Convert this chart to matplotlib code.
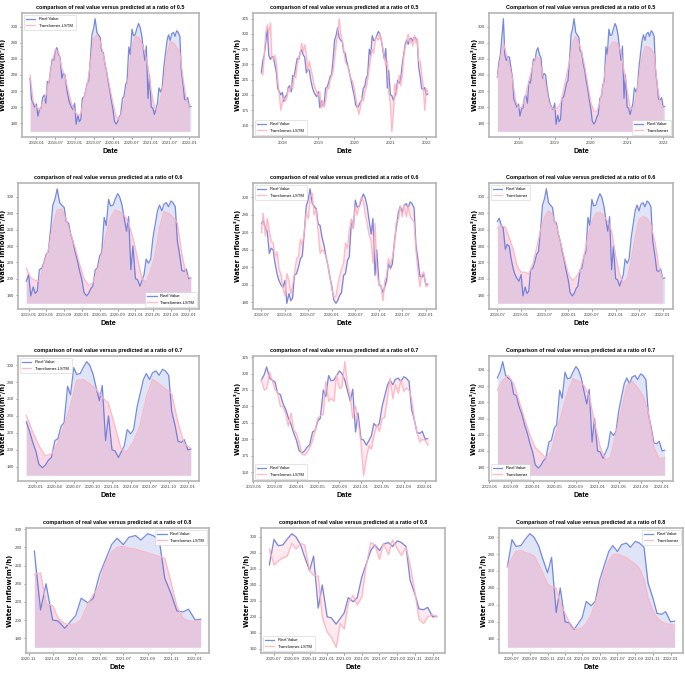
import matplotlib
matplotlib.use('Agg')
import matplotlib.pyplot as plt
import matplotlib.dates as mdates
from matplotlib.ticker import MultipleLocator
import pandas as pd

# semi-monthly observations, 2017-06-01 .. 2022-01-15
dates = pd.date_range('2017-06-01', periods=112, freq='SMS')

real_value = [
    237, 255, 265, 285, 310, 265, 258, 263, 262, 250, 236, 210, 205, 200,          # 2017
    204, 189, 198, 199, 212, 215, 205, 232, 230, 245, 260, 258,                    # 2018
    270, 274, 265, 262, 236, 242, 240, 225, 212, 205, 200, 197,
    205, 179, 190, 182, 185, 211, 213, 220, 230, 233, 262, 290,                    # 2019
    298, 310, 293, 290, 287, 270, 268, 255, 245, 233, 222, 210,
    198, 183, 179, 182, 188, 191, 211, 213, 228, 232, 275, 265,                    # 2020
    297, 289, 290, 297, 304, 300, 290, 275, 258, 276, 211, 240,
    200, 199, 191, 198, 205, 224, 219, 224, 250, 265, 283, 290,                    # 2021
    283, 291, 293, 288, 295, 293, 288, 246, 228, 210, 209, 212,
    200, 201,                                                                      # 2022
]

# Transformer-LSTM (left column), monthly except ratio 0.8
lstm_05 = [240, 207, 200, 197, 205, 215, 232, 255, 272, 268, 248, 238, 220, 205,
           195, 190, 192, 212, 228, 255, 285, 290, 282, 265, 245, 225,
           205, 188, 185, 195, 215, 240, 275, 288, 287, 280, 268, 250,
           220, 200, 196, 210, 232, 265, 282, 280, 274, 268, 235, 210, 200]
lstm_06 = [213, 201, 198, 197, 218, 235, 265, 284, 285, 272, 255, 238, 218,
           200, 192, 195, 210, 228, 255, 275, 284, 282, 278, 268, 250,
           225, 200, 196, 210, 228, 262, 282, 280, 275, 268, 230, 205, 200]
lstm_07 = [241, 222, 205, 193, 195, 208, 228, 252, 282, 283, 278, 272, 262, 255,
           228, 200, 198, 210, 228, 262, 283, 278, 272, 266, 232, 207, 202]
lstm_08 = [250, 252, 218, 216, 202, 196, 195, 196, 200, 218, 228, 238, 262, 275,
           280, 281, 279, 278, 276, 274, 272, 270, 268, 240, 215, 202, 199, 199, 199]

# Transformer-LSTM (middle column), semi-monthly
tl_05 = [235, 233, 265, 300, 315, 300, 318, 262, 258, 265, 252, 222, 200, 175,
         190, 195, 190, 195, 210, 205, 215, 210, 232, 228, 250, 262,
         268, 285, 272, 282, 265, 240, 255, 243, 232, 218, 210, 205,
         198, 205, 178, 190, 180, 190, 212, 210, 225, 230, 240, 262,
         283, 300, 325, 300, 290, 275, 255, 250, 245, 235, 225, 222,
         210, 195, 180, 168, 178, 195, 190, 205, 212, 225, 245, 262,
         275, 268, 290, 295, 290, 300, 290, 278, 262, 248, 255, 205,
         185, 140, 170, 218, 200, 215, 232, 215, 232, 260, 280, 285,
         300, 285, 290, 280, 298, 285, 292, 255, 255, 232, 215, 175,
         210, 205]
tl_06 = [260, 282, 256, 276, 262, 250, 248, 232, 238, 218, 212,
         196, 188, 213, 205, 190, 200, 212, 230, 232, 252, 245, 262,
         282, 276, 300, 305, 280, 286, 262, 236, 240, 238, 232, 222, 210,
         195, 186, 187, 200, 210, 218, 225, 248, 242, 262, 275, 265,
         290, 280, 292, 300, 296, 282, 270, 258, 250, 225, 270, 215,
         200, 200, 182, 205, 210, 230, 222, 232, 245, 272, 275, 290,
         278, 292, 278, 290, 278, 275, 272, 240, 215, 198, 212, 215,
         198, 200]
tl_07 = [290, 275, 277, 302, 290, 275, 272, 250, 250, 238, 220, 240, 215,
         208, 196, 177, 176, 180, 187, 198, 213, 232, 236, 238, 288,
         258, 262, 258, 298, 277, 280, 318, 285, 265, 232, 250, 228,
         195, 145, 172, 190, 185, 205, 222, 212, 232, 233, 265, 293,
         262, 283, 270, 290, 273, 278, 275, 262, 228, 210, 196, 200,
         198, 191]
tl_08 = [285, 265, 270, 274, 276, 292, 285, 292, 290, 258, 252, 251, 200,
         181, 175, 162, 192, 185, 218, 227, 215, 225, 262, 293, 290,
         272, 292, 278, 296, 285, 277, 287, 265, 230, 197, 192, 200, 203, 200]

# Transformer (right column), monthly except ratio 0.8
tf_05 = [237, 260, 280, 265, 252, 235, 208,
         199, 200, 208, 225, 240, 255, 263, 260, 240, 228, 207, 199,
         197, 200, 205, 222, 240, 258, 280, 288, 280, 268, 250, 228,
         206, 195, 195, 206, 225, 252, 272, 280, 281, 278, 268, 245,
         222, 198, 198, 212, 238, 262, 275, 275, 272, 266, 228, 205,
         200]
tf_06 = [262, 265, 263, 250, 236, 215,
         208, 208, 206, 218, 238, 260, 276, 283, 278, 264, 245, 225,
         206, 198, 202, 210, 228, 252, 270, 280, 281, 277, 270, 258,
         228, 205, 195, 200, 222, 250, 272, 276, 274, 266, 245, 215,
         200]
tf_07 = [275, 287, 293, 283, 262, 240, 220,
         204, 198, 191, 200, 225, 248, 272, 289, 286, 281, 268, 235,
         206, 189, 192, 222, 250, 280, 286, 278, 268, 248, 205, 190,
         192]
tf_08 = [265, 275, 283, 284, 282, 280, 278, 268, 258, 245, 241, 240, 222,
         210, 200, 192, 191, 193, 198, 208, 222, 240, 258, 272, 279,
         280, 278, 276, 272, 268, 263, 250, 228, 213, 205, 200, 198, 197, 196]

BLUE = '#4a67d6'
PINK = '#ffb3c1'
SANS = ['Liberation Sans', 'DejaVu Sans']

FW, FH = 685, 674
rows_px = [(13, 137), (183, 309), (356, 481), (528, 653)]
cols_px = [[(22, 199), (253, 436), (489, 673)],
           [(18, 199), (253, 436), (489, 673)],
           [(18, 199), (253, 436), (489, 673)],
           [(26, 209), (261, 445), (499, 683)]]
# centre of the y label, pixels from the left edge
ylabel_px = [[6, 241, 478], [6, 241, 478], [6, 241, 477], [13, 250, 487]]

ratios = ['0.5', '0.6', '0.7', '0.8']
left_start = [10, 37, 59, 83]
mid_start = [0, 26, 49, 73]
lstm_preds = [(lstm_05, 2), (lstm_06, 2), (lstm_07, 2), (lstm_08, 1)]
tl_preds = [tl_05, tl_06, tl_07, tl_08]
tf_preds = [(tf_05, 2), (tf_06, 2), (tf_07, 2), (tf_08, 1)]

xmonths = [[[1, 7], [1], [1]],
           [[1, 5, 9], [1, 7], [1, 7]],
           [[1, 4, 7, 10], [1, 5, 9], [1, 5, 9]],
           [[1, 3, 5, 7, 9, 11]] * 3]
ysteps = [[20, 25, 20], [20, 20, 20], [20, 25, 20], [20, 20, 20]]
legend_locs = [['upper left', 'lower left', 'lower right'],
               ['lower right', 'upper left', 'upper left'],
               ['upper left', 'lower left', 'lower left'],
               ['upper right', 'lower left', 'upper right']]

fig = plt.figure(figsize=(FW / 100, FH / 100), dpi=100)


def style_axis(ax, months, ystep, title, loc, ylab_frac):
    fmt = '%Y' if months == [1] else '%Y-%m'
    ax.xaxis.set_major_locator(mdates.MonthLocator(bymonth=months))
    ax.xaxis.set_major_formatter(mdates.DateFormatter(fmt))
    ax.yaxis.set_major_locator(MultipleLocator(ystep))
    ax.tick_params(labelsize=3.2, length=1.5, width=0.4, pad=1.5, colors='#444444')
    for lab in ax.get_xticklabels() + ax.get_yticklabels():
        lab.set_family(SANS)
    for sp in ax.spines.values():
        sp.set_color('#b5b5b5')
        sp.set_linewidth(1.2)
    ax.set_title(title, fontsize=3.9, fontweight='bold', family=SANS, pad=3)
    ax.set_xlabel('Date', fontsize=5.2, fontweight='bold', family=SANS, labelpad=2)
    ax.set_ylabel('Water inflow(m³/h)', fontsize=4.9, fontweight='bold')
    ax.yaxis.set_label_coords(ylab_frac, 0.5)
    leg = ax.legend(loc=loc, fontsize=3, handlelength=2.2, borderpad=0.5,
                    labelspacing=0.6, framealpha=0.9)
    leg.get_frame().set_linewidth(0.4)
    for t in leg.get_texts():
        t.set_family(SANS)


for r in range(4):
    top, bot = rows_px[r]
    for c in range(3):
        x0, x1 = cols_px[r][c]
        ax = fig.add_axes([x0 / FW, 1 - bot / FH, (x1 - x0) / FW, (bot - top) / FH])

        if c == 0:
            s = left_start[r]
        else:
            s = mid_start[r]
        d_real = dates[s:]
        v_real = real_value[s:]

        if c == 1:
            pred = tl_preds[r]
            ax.plot(d_real, v_real, color=BLUE, lw=0.9, alpha=0.75, label='Real Value')
            ax.plot(d_real, pred, color=PINK, lw=0.9, alpha=0.9, label='Transformer-LSTM')
            ax.fill_between(d_real, v_real, pred, color='pink', alpha=0.3)
            title = 'comparison of real value versus predicted at a ratio of ' + ratios[r]
        else:
            if c == 0:
                pred, step = lstm_preds[r]
                name = 'Transformer-LSTM'
                title = 'comparison of real value versus predicted at a ratio of ' + ratios[r]
            else:
                pred, step = tf_preds[r]
                name = 'Transformer'
                title = 'Comparison of real value versus predicted at a ratio of ' + ratios[r]
            d_pred = dates[s::step][:len(pred)]
            ax.plot(d_real, v_real, color=BLUE, lw=0.9, alpha=0.75, label='Real Value')
            ax.fill_between(d_real, 170, v_real, color='#6f86d6', alpha=0.22, lw=0)
            ax.plot(d_pred, pred, color=PINK, lw=0.9, alpha=0.9, label=name)
            ax.fill_between(d_pred, 170, pred, color='#f0a0c0', alpha=0.4, lw=0)

        ylab_frac = (ylabel_px[r][c] - x0) / (x1 - x0)
        style_axis(ax, xmonths[r][c], ysteps[r][c], title, legend_locs[r][c], ylab_frac)

fig.savefig('out.png', dpi=100, facecolor='white')
